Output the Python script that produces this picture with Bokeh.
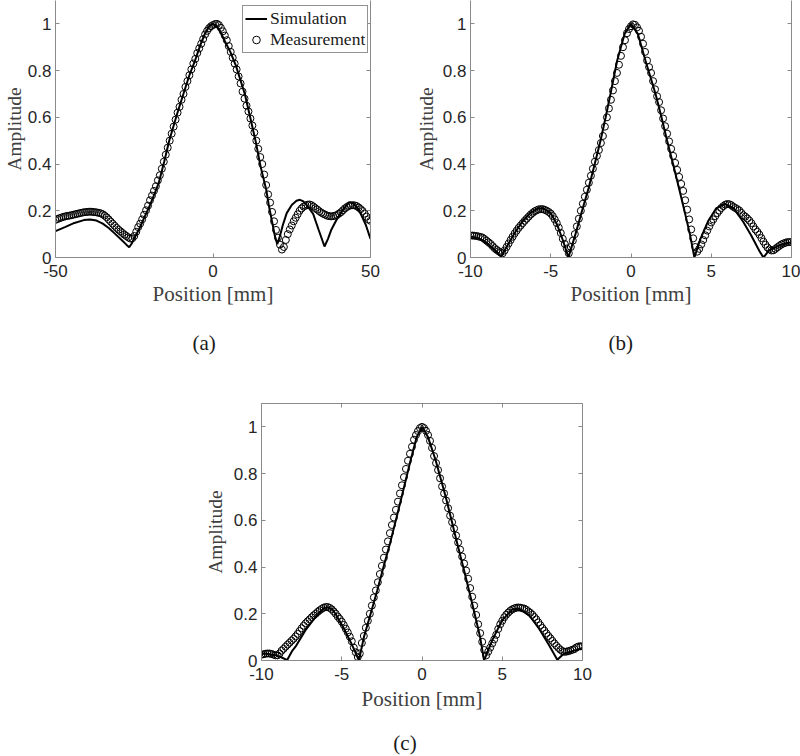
import numpy as np
from bokeh.plotting import figure
from bokeh.models import (Range1d, LinearAxis, FixedTicker, NumeralTickFormatter,
                          Legend, LegendItem, Title, Div)
from bokeh.layouts import column, row
from bokeh.embed import file_html
from bokeh.resources import INLINE

# ---------------- data ----------------
# (a) wide scan, -50..50 mm
sim_a_x = [-50, -47, -44, -41, -39, -37, -35, -33, -31, -29, -27.5, -26.6, -25.8, -24.7,
           -23.4, -21.5, -20.3, -18.5, -17.2, -15.5, -13.9, -11.5, -9.4, -7.5, -5.7, -4,
           -2.6, -1.2, 0, 1.2, 2.4, 3.6, 5.5, 7.3, 8.7, 10.1, 11.8, 13.5, 15.1, 16.9, 17.7,
           18.8, 19.6, 20.4, 21.2, 22.2, 23.4, 25, 26.5, 27.6, 28.7, 30, 31.8, 33.5, 35.4,
           36.5, 37.6, 39.1, 41, 43.2, 44.5, 46, 46.9, 48.5, 50]
sim_a_y = [0.113, 0.13, 0.148, 0.16, 0.163, 0.158, 0.145, 0.125, 0.1, 0.075, 0.055, 0.044,
           0.06, 0.09, 0.123, 0.18, 0.215, 0.275, 0.32, 0.41, 0.5, 0.61, 0.7, 0.78, 0.843,
           0.91, 0.957, 0.99, 1.0, 0.99, 0.965, 0.93, 0.88, 0.82, 0.76, 0.7, 0.6, 0.5, 0.39,
           0.29, 0.225, 0.15, 0.095, 0.057, 0.09, 0.14, 0.19, 0.225, 0.243, 0.247, 0.24, 0.22,
           0.187, 0.12, 0.047, 0.08, 0.12, 0.158, 0.2, 0.237, 0.232, 0.21, 0.187, 0.14, 0.08]

meas_a_x = np.linspace(-50, 50, 161)
meas_a_y = [
    0.161, 0.165, 0.168, 0.171, 0.174, 0.176, 0.178, 0.179,
    0.181, 0.183, 0.185, 0.187, 0.189, 0.191, 0.193, 0.194,
    0.195, 0.196, 0.196, 0.195, 0.194, 0.193, 0.191, 0.189,
    0.185, 0.179, 0.172, 0.163, 0.154, 0.145, 0.136, 0.127,
    0.119, 0.112, 0.105, 0.098, 0.092, 0.086, 0.081, 0.082,
    0.092, 0.11, 0.13, 0.145, 0.163, 0.183, 0.202, 0.222,
    0.245, 0.265, 0.285, 0.305, 0.33, 0.352, 0.38, 0.41,
    0.44, 0.47, 0.5, 0.53, 0.56, 0.59, 0.62, 0.645,
    0.675, 0.70, 0.73, 0.755, 0.78, 0.805, 0.83, 0.85,
    0.875, 0.895, 0.915, 0.935, 0.955, 0.97, 0.982, 0.99,
    0.995, 0.999, 1.0, 0.995, 0.983, 0.968, 0.95, 0.93,
    0.905, 0.88, 0.855, 0.83, 0.805, 0.775, 0.745, 0.71,
    0.68, 0.65, 0.625, 0.595, 0.565, 0.535, 0.5, 0.465,
    0.43, 0.4, 0.355, 0.31, 0.27, 0.235, 0.195, 0.155,
    0.118, 0.085, 0.055, 0.034, 0.045, 0.075, 0.1, 0.12,
    0.137, 0.155, 0.17, 0.185, 0.2, 0.21, 0.218, 0.222,
    0.226, 0.227, 0.224, 0.218, 0.211, 0.205, 0.198, 0.192,
    0.187, 0.183, 0.179, 0.177, 0.176, 0.177, 0.179, 0.182,
    0.188, 0.194, 0.202, 0.21, 0.216, 0.221, 0.223, 0.224,
    0.223, 0.22, 0.214, 0.207, 0.199, 0.188, 0.175, 0.163,
    0.157]

# (b) -10..10 mm
sim_b_x = [-10, -9.5, -9.0, -8.5, -8.1, -7.75, -7.25, -6.75, -6.25, -5.75, -5.5, -5.0, -4.6,
           -4.25, -3.9, -3.46, -3.05, -2.63, -2.26, -1.9, -1.58, -1.28, -0.86, -0.4, 0.0,
           0.43, 0.9, 1.53, 1.9, 2.25, 2.62, 2.98, 3.33, 3.67, 3.95, 4.3, 4.8, 5.3, 5.85,
           6.4, 7.0, 7.5, 8.0, 8.25, 8.6, 9.2, 9.6, 10]
sim_b_y = [0.09, 0.083, 0.062, 0.033, 0.004, 0.045, 0.105, 0.155, 0.192, 0.21, 0.211, 0.19,
           0.14, 0.075, 0.0, 0.1, 0.2, 0.3, 0.4, 0.5, 0.6, 0.7, 0.843, 0.957, 1.0, 0.957,
           0.843, 0.7, 0.6, 0.5, 0.4, 0.3, 0.2, 0.1, 0.0, 0.075, 0.155, 0.21, 0.23, 0.21,
           0.152, 0.093, 0.028, 0.0, 0.03, 0.05, 0.06, 0.065]

meas_b_x = np.linspace(-10, 10, 161)
meas_b_y = [
    0.094, 0.094, 0.093, 0.092, 0.09, 0.088, 0.085, 0.079,
    0.072, 0.065, 0.058, 0.049, 0.04, 0.033, 0.027, 0.021,
    0.018, 0.03, 0.045, 0.06, 0.075, 0.089, 0.103, 0.115,
    0.127, 0.137, 0.147, 0.157, 0.166, 0.175, 0.184, 0.191,
    0.198, 0.202, 0.206, 0.207, 0.207, 0.204, 0.2, 0.195,
    0.188, 0.177, 0.163, 0.147, 0.128, 0.105, 0.08, 0.058,
    0.038, 0.018, 0.045, 0.072, 0.1, 0.133, 0.166, 0.2,
    0.23, 0.26, 0.29, 0.32, 0.35, 0.38, 0.41, 0.435,
    0.46, 0.49, 0.52, 0.56, 0.6, 0.638, 0.675, 0.715,
    0.755, 0.79, 0.825, 0.863, 0.9, 0.93, 0.96, 0.978,
    0.99, 0.998, 0.996, 0.985, 0.97, 0.945, 0.915, 0.88,
    0.843, 0.815, 0.79, 0.755, 0.72, 0.69, 0.665, 0.63,
    0.595, 0.562, 0.53, 0.497, 0.465, 0.435, 0.405, 0.375,
    0.345, 0.315, 0.285, 0.245, 0.205, 0.163, 0.12, 0.082,
    0.045, 0.025, 0.037, 0.056, 0.075, 0.095, 0.115, 0.133,
    0.15, 0.163, 0.177, 0.19, 0.201, 0.212, 0.22, 0.226,
    0.229, 0.228, 0.224, 0.217, 0.212, 0.207, 0.201, 0.191,
    0.181, 0.175, 0.167, 0.158, 0.147, 0.133, 0.12, 0.11,
    0.098, 0.083, 0.068, 0.055, 0.043, 0.035, 0.03, 0.031,
    0.037, 0.044, 0.05, 0.056, 0.06, 0.063, 0.066, 0.066,
    0.066]

# (c) -10..10 mm
sim_c_x = [-10, -9.7, -9.4, -9.1, -8.8, -8.4, -8.1, -7.88, -7.26, -6.63, -6.12, -5.9, -5.6,
           -5.39, -4.87, -4.35, -3.93, -3.62, -3.2, -2.79, -2.4, -2.0, -1.63, -1.27, -0.71,
           -0.33, 0.02, 0.37, 0.85, 1.48, 1.84, 2.2, 2.57, 2.93, 3.28, 3.62, 3.87, 4.38, 5.0,
           5.63, 6.04, 6.67, 7.29, 7.91, 8.43, 8.85, 9.37, 9.95]
sim_c_y = [0.028, 0.03, 0.025, 0.022, 0.015, 0.002, 0.04, 0.059, 0.13, 0.187, 0.224, 0.228,
           0.22, 0.2, 0.137, 0.066, 0.0, 0.1, 0.2, 0.3, 0.4, 0.5, 0.6, 0.7, 0.857, 0.957,
           1.0, 0.957, 0.857, 0.7, 0.6, 0.5, 0.4, 0.3, 0.2, 0.1, 0.0, 0.087, 0.173, 0.219,
           0.221, 0.194, 0.137, 0.066, 0.003, 0.03, 0.04, 0.051]

meas_c_x = np.linspace(-10, 10, 161)
meas_c_y = [
    0.025, 0.027, 0.029, 0.03, 0.03, 0.028, 0.025, 0.022,
    0.022, 0.03, 0.042, 0.05, 0.059, 0.068, 0.076, 0.085,
    0.093, 0.103, 0.114, 0.126, 0.138, 0.149, 0.159, 0.168,
    0.176, 0.185, 0.193, 0.2, 0.208, 0.215, 0.221, 0.226,
    0.229, 0.229, 0.225, 0.219, 0.21, 0.2, 0.188, 0.178,
    0.166, 0.152, 0.136, 0.12, 0.102, 0.082, 0.055, 0.035,
    0.015, 0.03, 0.075, 0.105, 0.14, 0.17, 0.2, 0.235,
    0.27, 0.3, 0.335, 0.37, 0.405, 0.44, 0.475, 0.51,
    0.545, 0.58, 0.612, 0.645, 0.68, 0.715, 0.75, 0.785,
    0.82, 0.855, 0.885, 0.915, 0.945, 0.965, 0.982, 0.995,
    1.0, 0.995, 0.983, 0.965, 0.94, 0.91, 0.875, 0.845,
    0.815, 0.78, 0.745, 0.715, 0.685, 0.652, 0.62, 0.592,
    0.565, 0.535, 0.505, 0.475, 0.445, 0.415, 0.385, 0.35,
    0.31, 0.273, 0.235, 0.195, 0.155, 0.117, 0.08, 0.045,
    0.022, 0.038, 0.055, 0.073, 0.09, 0.11, 0.135, 0.155,
    0.17, 0.185, 0.196, 0.205, 0.213, 0.219, 0.223, 0.226,
    0.227, 0.226, 0.224, 0.222, 0.217, 0.21, 0.204, 0.196,
    0.186, 0.176, 0.163, 0.151, 0.139, 0.128, 0.116, 0.105,
    0.095, 0.084, 0.073, 0.063, 0.054, 0.046, 0.04, 0.037,
    0.038, 0.04, 0.043, 0.046, 0.049, 0.056, 0.06, 0.061,
    0.06]

y_ticks = [0, 0.2, 0.4, 0.6, 0.8, 1]
x_ticks_a = [-50, 0, 50]
x_ticks_bc = [-10, -5, 0, 5, 10]

# ---------------- styling ----------------
AX = "#8a8a8a"
TICK_TXT = "#262626"
LBL = "#404040"
CAP = "#1a1a1a"
SERIF = "Liberation Serif"
SANS = "Liberation Sans"


def style_axis(ax, ticks, fmt, standoff, show_labels=True):
    ax.ticker = FixedTicker(ticks=ticks)
    ax.formatter = NumeralTickFormatter(format=fmt)
    ax.axis_line_color = AX
    ax.axis_line_width = 1
    ax.major_tick_line_color = AX
    ax.major_tick_in = 4
    ax.major_tick_out = 0
    ax.minor_tick_line_color = None
    ax.major_label_text_font = SANS
    ax.major_label_text_font_size = "17px"
    ax.major_label_text_color = TICK_TXT if show_labels else None
    ax.major_label_standoff = standoff
    ax.axis_label_text_font = SERIF
    ax.axis_label_text_font_style = "normal"
    ax.axis_label_text_color = LBL


def make_fig(width, height, xr, yr, borders, xticks, top_axis, ylab_standoff, xlab_standoff):
    l, r, t, b = borders
    p = figure(width=width, height=height, x_range=Range1d(*xr), y_range=Range1d(*yr),
               output_backend="svg", toolbar_location=None,
               min_border_left=l, min_border_right=r, min_border_top=t, min_border_bottom=b)
    p.grid.visible = False
    p.outline_line_color = None
    p.background_fill_color = "white"
    p.border_fill_color = "white"
    style_axis(p.xaxis[0], xticks, "0", 7)
    style_axis(p.yaxis[0], y_ticks, "0.[0]", 4)
    p.xaxis[0].axis_label = "Position [mm]"
    p.xaxis[0].axis_label_text_font_size = "21px"
    p.xaxis[0].axis_label_standoff = xlab_standoff
    p.yaxis[0].axis_label = "Amplitude"
    p.yaxis[0].axis_label_text_font_size = "19.5px"
    p.yaxis[0].axis_label_standoff = ylab_standoff
    ra = LinearAxis()
    style_axis(ra, y_ticks, "0.[0]", 0, show_labels=False)
    p.add_layout(ra, "right")
    if top_axis:
        ta = LinearAxis()
        style_axis(ta, xticks, "0", 0, show_labels=False)
        p.add_layout(ta, "above")
    return p


def add_caption(p, text, offset, standoff):
    t = Title(text=text, align="left", offset=offset, standoff=standoff,
              text_font=SERIF, text_font_size="21px", text_font_style="normal",
              text_color=CAP)
    p.add_layout(t, "below")


def draw(p, sx, sy, mx, my):
    s = p.line(sx, sy, line_color="black", line_width=2)
    m = p.scatter(mx, my, marker="circle", size=7, fill_color=None,
                  line_color="black", line_width=1)
    return s, m


# (a)
pa = make_fig(400, 390, (-50, 50), (0, 1.1), (50, 30, 0, 133), x_ticks_a, False, 0, 2)
sa, ma = draw(pa, sim_a_x, sim_a_y, meas_a_x, meas_a_y)
leg = Legend(items=[LegendItem(label="Simulation", renderers=[sa]),
                    LegendItem(label="Measurement", renderers=[ma])],
             location=(187, 204))
leg.label_text_font = SERIF
leg.label_text_font_size = "17.5px"
leg.label_text_color = CAP
leg.glyph_width = 22
leg.glyph_height = 19
leg.label_height = 19
leg.label_standoff = 3
leg.padding = 2
leg.spacing = 0
leg.margin = 0
leg.border_line_color = "#262626"
leg.border_line_width = 1
leg.background_fill_color = "white"
leg.background_fill_alpha = 1.0
pa.add_layout(leg)
add_caption(pa, "(a)", 137, 40)

# (b)
pb = make_fig(400, 390, (-10, 10), (0, 1.1), (70, 9, 0, 133), x_ticks_bc, False, 3, 2)
draw(pb, sim_b_x, sim_b_y, meas_b_x, meas_b_y)
add_caption(pb, "(b)", 138, 40)

# (c)
pc = make_fig(800, 328, (-10, 10), (0, 1.1), (261, 218, 13, 58), x_ticks_bc, True, 5, 4)
draw(pc, sim_c_x, sim_c_y, meas_c_x, meas_c_y)
cap_c = Div(text='<span style="display:inline-block;margin-top:8px">(c)</span>',
            width=800, height=38,
            styles={"text-align": "center", "font-family": SERIF, "font-size": "21px",
                    "color": CAP, "line-height": "24px"})

layout = column(row(pa, pb), pc, cap_c)
open("out.html", "w").write(file_html(layout, INLINE))
